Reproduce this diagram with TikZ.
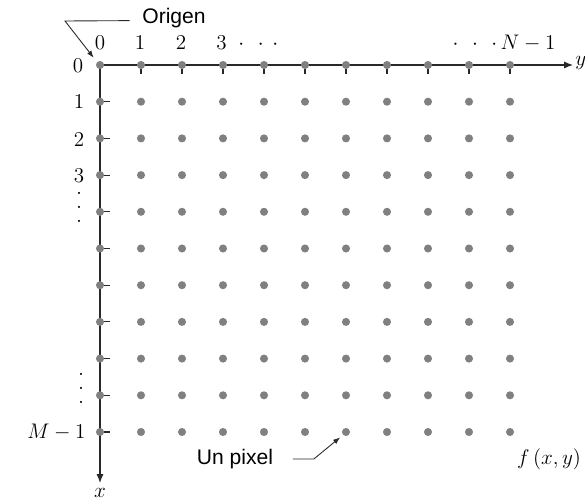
\documentclass[tikz,border=0pt]{standalone}
\usepackage{amsmath,amssymb}
\usepackage{fontspec}
\newfontfamily\labelfont{Liberation Sans}
\usepackage{xcolor}
\usepackage{tikz}
\usetikzlibrary{arrows.meta,calc,positioning}

\definecolor{pixgray}{RGB}{128,128,128}
\definecolor{axisgray}{RGB}{40,40,40}
\newcommand{\spdots}{\cdot\hspace{5pt}\cdot\hspace{5pt}\cdot}
\newcommand{\vspdots}{\vbox{\baselineskip=8.2pt\lineskiplimit=-10pt\hbox{.}\hbox{.}\hbox{.}}}

\tikzset{
  pix/.style={circle,fill=pixgray,inner sep=0pt,minimum size=4.6pt},
  axis/.style={axisgray,line width=0.7pt,-{Latex[length=5pt,width=4pt]}},
  tick/.style={axisgray,line width=0.6pt},
  callout/.style={axisgray,line width=0.5pt,-{Latex[length=4pt,width=3pt]}},
  num/.style={inner sep=0pt,font=\fontsize{12.5}{14}\selectfont},
  word/.style={inner sep=0pt,font=\labelfont\fontsize{12}{14}\selectfont}
}

\begin{document}
\begin{tikzpicture}[x=0.02cm,y=-0.02cm,line width=0.5pt]
    \useasboundingbox (0,0) rectangle (585,502);
    \coordinate (o) at (100,65);
    \coordinate (yend) at (573,65);
    \coordinate (xend) at (100,483);
    \draw[axis] (o) -- (yend);
    \draw[axis] (o) -- (xend);
    % pixel grid
    \foreach \i in {0,...,10}{
      \foreach \j in {0,...,10}{
        \node[pix] (p\i-\j) at ({100+41*\j},{65+36.7*\i}) {};
      }
    }
    \foreach \j in {1,...,10}
      \draw[tick] (p0-\j.south) -- ++(0,5);
    \foreach \i in {1,...,10}
      \draw[tick] (p\i-0.east) -- ++(6,0);
    % axis labels
    \node[num,anchor=west] (ylab) at (575,63) {$y$};
    \node[num] (xlab) at (100,493) {$x$};
    \node[num] (c0) at (100,43) {$0$};
    \node[num] (c1) at (140,43) {$1$};
    \node[num] (c2) at (181,43) {$2$};
    \node[num,anchor=west] (c3) at (216,43) {$3\hspace{4pt}\spdots$};
    \node[num,anchor=east] (cN) at (556,43) {$\spdots\hspace{2pt} N-1$};
    \node[num] (r0) at (78,66) {$0$};
    \node[num] (r1) at (79,102) {$1$};
    \node[num] (r2) at (79,140) {$2$};
    \node[num] (r3) at (79,176) {$3$};
    \node[num] (rdots1) at (79,207.5) {\vspdots};
    \node[num] (rdots2) at (81,388.5) {\vspdots};
    \node[num,anchor=east] (rM) at (86,432) {$M-1$};
    \node[num] (flab) at (549,459) {$f\,(x,y)$};
    % callouts
    \node[word] (orig) at (174,18) {Origen};
    \coordinate (orgbend) at (65,21);
    \draw[callout,shorten >=3pt] ([xshift=-7pt,yshift=-1.5pt]orig.west) -- (orgbend) -- (p0-0.north west);
    \node[word] (pixlab) at (235,459) {Un pixel};
    \draw[callout,shorten >=2pt] ([xshift=11pt]pixlab.east) -- ++(21,0) -- (p10-6.south west);
\end{tikzpicture}
\end{document}
